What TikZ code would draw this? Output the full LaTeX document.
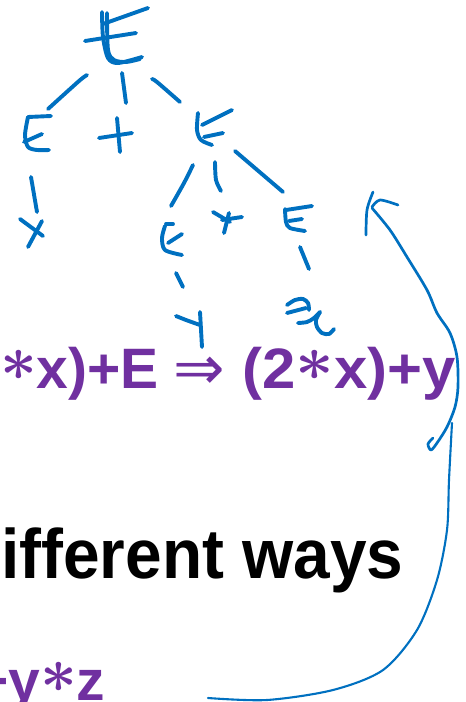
\documentclass[tikz,border=0pt]{standalone}
\usepackage{fontspec}
\setmainfont{Liberation Sans}
\newfontfamily\dvfont{DejaVu Sans}
\usepackage{graphicx}
\usepackage{amsmath,amsbsy}
\definecolor{hb}{HTML}{0070C0}
\definecolor{pu}{HTML}{7030A0}
\newcommand\bigast{\raisebox{8pt}{\fontsize{10}{12}\selectfont\scalebox{6.4}{$\boldsymbol{\ast}$}}}
\tikzset{
  hand/.style={draw=hb, line width=3.9pt, line cap=round, line join=round},
  thinhand/.style={draw=hb, line width=2.7pt, line cap=round, line join=round},
  ptext/.style={inner sep=0pt, text=pu, font=\fontsize{57}{60}\selectfont\bfseries},
  btext/.style={inner sep=0pt, text=black, font=\fontsize{70}{74}\selectfont\bfseries},
}
\begin{document}
\begin{tikzpicture}[x=1pt,y=-1pt]
\useasboundingbox (0,0) rectangle (466,702);
\clip (0,0) rectangle (466,702);

% ---- texts ----
\node[ptext, anchor=base west] (d1) at (0,388) {\bigast x)+E};
\node[ptext, anchor=base west] (imp) at (173,388) {\raisebox{-1pt}{\scalebox{1.08}{\dvfont\mdseries ⇒}}};
\node[ptext, anchor=base west] (d2) at (242,388) {\scalebox{1.05}[1]{(2\bigast x)+y}};
\node[btext, anchor=base west] (ways) at (1,578) {\scalebox{0.94}[1]{ifferent ways}};
\node[ptext, anchor=base west] (expr) at (-25,700) {+y\bigast z};

% ---- parse tree (handwritten) ----
% root E
\draw[hand] plot[smooth] coordinates {(102,12) (103,37) (108,58) (118,63) (142,57)};
\draw[hand] plot[smooth] coordinates {(107,13) (108,50) (114,60) (126,62) (140,59)};
\draw[hand] (103,24) -- (148,8);
\draw[hand] (85,41) -- (136,33);
% branches from root
\draw[hand] plot[smooth] coordinates {(87,75) (79,81) (48,109)};
\draw[hand] (122,73) -- (126,103);
\draw[hand] plot[smooth] coordinates {(152,79) (157,82) (180,102)};
% left E
\draw[hand] (28,117) -- (51,116);
\draw[hand] plot[smooth] coordinates {(28,117) (25,135) (28,147) (37,150) (49,150)};
\draw[hand] (24,142) -- (42,134);
% plus
\draw[hand] (99,138) -- (132,133);
\draw[hand] (117,118) -- (120,152);
% right E
\draw[hand] (202,125) -- (232,110);
\draw[hand] plot[smooth] coordinates {(198,113) (197,130) (201,140) (212,145)};
\draw[hand] (204,137) -- (223,133);
% left E -> x
\draw[hand] (31,177) -- (37,212);
\draw[hand] (20,219) -- (43,236);
\draw[hand] (42,221) -- (28,247);
% right E branches
\draw[hand] plot[smooth] coordinates {(193,165) (184,183) (171,206)};
\draw[hand] plot[smooth] coordinates {(215,162) (216,180) (221,191)};
\draw[hand] (235,151) -- (283,192);
% lower-left E
\draw[hand] (166,224) -- (173,224);
\draw[hand] plot[smooth] coordinates {(165,226) (162,238) (165,250) (182,255)};
\draw[hand] (168,243) -- (182,234);
\draw[hand] (176,273) -- (183,287);
% y
\draw[hand] plot[smooth] coordinates {(176,316) (186,320) (200,325)};
\draw[hand] (200,312) -- (202,347);
% star
\draw[hand] (213,212) -- (230,222);
\draw[hand] (222,220) -- (242,217);
\draw[hand] (229,213) -- (224,233);
% lower-right E
\draw[hand] (286,210) -- (312,206);
\draw[hand] plot[smooth] coordinates {(285,209) (286,222) (290,228) (305,231)};
\draw[hand] (289,221) -- (302,219);
\draw[hand] (300,247) -- (309,269);
% scribbled x
\draw[hand] plot[smooth] coordinates {(287,305) (295,300) (303,299) (308,303) (309,310)};
\draw[hand] (287,313) -- (306,308);
\draw[hand] plot[smooth] coordinates {(298,323) (307,322) (314,318) (320,312)};
\draw[hand] plot[smooth] coordinates {(320,312) (316,320) (317,327) (322,333) (329,334) (334,329)};

% ---- curved arrow ----
\draw[thinhand] plot[smooth] coordinates {(373,192) (367,210) (366,235)};
\draw[thinhand] plot[smooth] coordinates {(372,207) (380,200) (398,205)};
\draw[thinhand] plot[smooth] coordinates {(372,208) (390,230) (407,257) (427,290) (437,313) (450,333) (457,357) (458,387) (455,407) (447,427) (437,443) (431,450) (428,444) (433,438)};
\draw[draw=hb, line width=2.1pt, line cap=round] plot[smooth] coordinates {(452,423) (449,480) (447,530) (437,580) (417,630) (383,670) (333,690) (267,700) (208,698)};
\end{tikzpicture}
\end{document}
